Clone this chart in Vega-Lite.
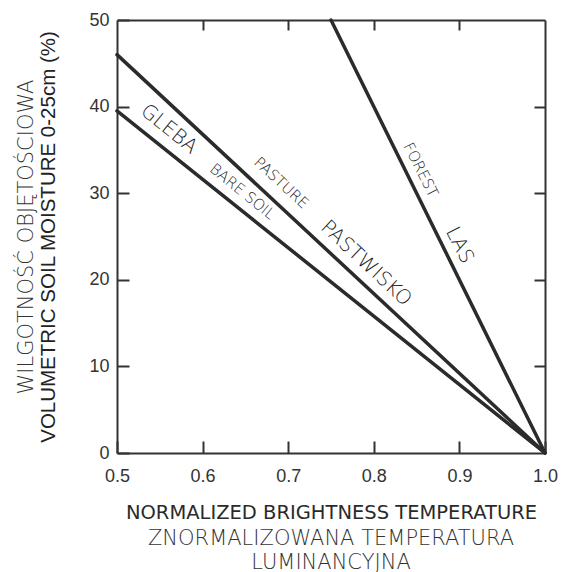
{
  "$schema": "https://vega.github.io/schema/vega-lite/v6.json",
  "width": 428,
  "height": 433,
  "autosize": "none",
  "padding": {"left": 117, "top": 20, "right": 17, "bottom": 119},
  "background": "white",
  "config": {"view": {"stroke": null}, "axis": {"grid": false, "labelFlush": false, "labelOverlap": false}},
  "datasets": {
    "lines": [
      {"series": "bare soil", "x": 0.5, "y": 39.5},
      {"series": "bare soil", "x": 1.0, "y": 0},
      {"series": "pasture", "x": 0.5, "y": 46},
      {"series": "pasture", "x": 1.0, "y": 0},
      {"series": "forest", "x": 0.75, "y": 50},
      {"series": "forest", "x": 1.0, "y": 0}
    ],
    "labels": [
      {"series": "bare soil", "lang": "pl", "label": "GLEBA", "x": 0.5606, "y": 37.4},
      {"series": "bare soil", "lang": "en", "label": "BARE SOIL", "x": 0.6466, "y": 30.2},
      {"series": "pasture", "lang": "en", "label": "PASTURE", "x": 0.692, "y": 31.2},
      {"series": "pasture", "lang": "pl", "label": "PASTWISKO", "x": 0.791, "y": 21.9},
      {"series": "forest", "lang": "en", "label": "FOREST", "x": 0.855, "y": 32.7},
      {"series": "forest", "lang": "pl", "label": "LAS", "x": 0.9, "y": 24.0}
    ]
  },
  "title": {
    "text": ["ZNORMALIZOWANA  TEMPERATURA", "LUMINANCYJNA"],
    "orient": "bottom",
    "anchor": "middle",
    "font": "DejaVu Sans",
    "fontWeight": 200,
    "fontSize": 21,
    "lineHeight": 24,
    "color": "#333",
    "offset": 6
  },
  "resolve": {"axis": {"x": "independent", "y": "independent"}},
  "layer": [
    {
      "data": {"name": "lines"},
      "mark": {"type": "line", "strokeWidth": 3.5, "color": "#2b2b2b", "strokeCap": "round"},
      "encoding": {
        "x": {
          "field": "x", "type": "quantitative",
          "scale": {"domain": [0.5, 1.0], "nice": false, "zero": false},
          "axis": {
            "orient": "bottom", "values": [0.5, 0.6, 0.7, 0.8, 0.9, 1.0], "format": ".1f",
            "tickSize": -12, "tickWidth": 2, "tickColor": "#333",
            "domainWidth": 2, "domainColor": "#333",
            "labelFont": "Liberation Sans", "labelFontSize": 18, "labelColor": "#333", "labelPadding": 26,
            "title": "NORMALIZED BRIGHTNESS TEMPERATURE",
            "titleFont": "DejaVu Sans", "titleFontSize": 19.5, "titleFontWeight": "normal", "titleColor": "#2a2a2a",
            "titlePadding": 18
          }
        },
        "y": {
          "field": "y", "type": "quantitative",
          "scale": {"domain": [0, 50], "nice": false},
          "axis": {
            "orient": "left", "values": [0, 10, 20, 30, 40, 50],
            "tickSize": -12, "tickWidth": 2, "tickColor": "#333",
            "domainWidth": 2, "domainColor": "#333",
            "labelFont": "Liberation Sans", "labelFontSize": 18, "labelColor": "#333", "labelPadding": 20,
            "title": "VOLUMETRIC SOIL MOISTURE 0-25cm (%)",
            "titleFont": "Liberation Sans", "titleFontSize": 20.5, "titleFontWeight": "normal", "titleColor": "#222",
            "titlePadding": 30
          }
        },
        "detail": {"field": "series"}
      }
    },
    {
      "data": {"name": "lines"},
      "mark": {"type": "point", "opacity": 0},
      "encoding": {
        "x": {
          "field": "x", "type": "quantitative",
          "axis": {
            "orient": "top", "values": [0.6, 0.7, 0.8, 0.9], "labels": false, "title": null,
            "tickSize": -10, "tickWidth": 2, "tickColor": "#333",
            "domainWidth": 2, "domainColor": "#333"
          }
        },
        "y": {
          "field": "y", "type": "quantitative",
          "axis": {
            "orient": "right", "values": [10, 20, 30, 40], "labels": false, "title": null,
            "tickSize": -11, "tickWidth": 2, "tickColor": "#333",
            "domainWidth": 2, "domainColor": "#333"
          }
        }
      }
    },
    {
      "data": {"name": "lines"},
      "mark": {"type": "point", "opacity": 0},
      "encoding": {
        "x": {"field": "x", "type": "quantitative", "axis": null},
        "y": {
          "field": "y", "type": "quantitative",
          "axis": {
            "orient": "left", "labels": false, "ticks": false, "domain": false,
            "title": "WILGOTNOŚĆ OBJĘTOŚCIOWA",
            "titleFont": "DejaVu Sans", "titleFontSize": 21, "titleFontWeight": 200, "titleColor": "#333",
            "titlePadding": 81
          }
        }
      }
    },
    {
      "data": {"name": "labels"},
      "transform": [{"filter": "datum.series == 'bare soil'"}],
      "mark": {"type": "text", "angle": 38.9, "align": "center", "baseline": "middle", "font": "DejaVu Sans", "fontWeight": 300, "color": "#222"},
      "encoding": {
        "x": {"field": "x", "type": "quantitative", "axis": null},
        "y": {"field": "y", "type": "quantitative", "axis": null},
        "text": {"field": "label"},
        "size": {"field": "lang", "type": "nominal", "scale": {"domain": ["en", "pl"], "range": [15, 20]}, "legend": null}
      }
    },
    {
      "data": {"name": "labels"},
      "transform": [{"filter": "datum.series == 'pasture'"}],
      "mark": {"type": "text", "angle": 42.8, "align": "center", "baseline": "middle", "font": "DejaVu Sans", "fontWeight": 300, "color": "#222"},
      "encoding": {
        "x": {"field": "x", "type": "quantitative", "axis": null},
        "y": {"field": "y", "type": "quantitative", "axis": null},
        "text": {"field": "label"},
        "size": {"field": "lang", "type": "nominal", "scale": {"domain": ["en", "pl"], "range": [15, 20]}, "legend": null}
      }
    },
    {
      "data": {"name": "labels"},
      "transform": [{"filter": "datum.series == 'forest'"}],
      "mark": {"type": "text", "angle": 63.2, "align": "center", "baseline": "middle", "font": "DejaVu Sans", "fontWeight": 300, "color": "#222"},
      "encoding": {
        "x": {"field": "x", "type": "quantitative", "axis": null},
        "y": {"field": "y", "type": "quantitative", "axis": null},
        "text": {"field": "label"},
        "size": {"field": "lang", "type": "nominal", "scale": {"domain": ["en", "pl"], "range": [15, 20]}, "legend": null}
      }
    }
  ]
}
